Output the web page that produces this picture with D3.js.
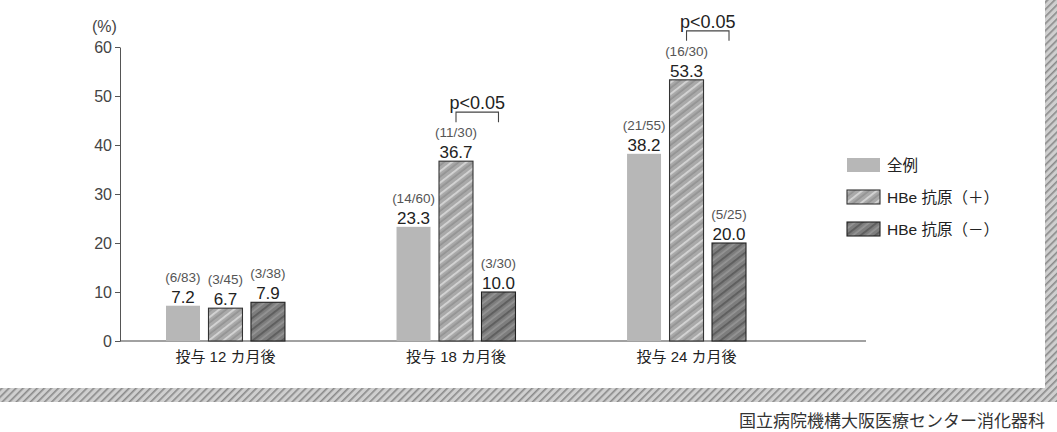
<!DOCTYPE html>
<html><head><meta charset="utf-8">
<script src="https://cdn.jsdelivr.net/npm/d3@7"></script>
<style>
html,body{margin:0;padding:0;background:#fff;}
svg{display:block;}
text{font-family:"Liberation Sans","Noto Sans CJK JP",sans-serif;}
</style></head>
<body>
<svg id="c" width="1057" height="432"></svg>
<script>
const categories = ["投与 12 カ月後", "投与 18 カ月後", "投与 24 カ月後"];
const seriesNames = ["全例", "HBe 抗原（＋）", "HBe 抗原（－）"];
const allCases = [7.2, 23.3, 38.2];
const hbePos = [6.7, 36.7, 53.3];
const hbeNeg = [7.9, 10.0, 20.0];
const countsAll = ["(6/83)", "(14/60)", "(21/55)"];
const countsPos = ["(3/45)", "(11/30)", "(16/30)"];
const countsNeg = ["(3/38)", "(3/30)", "(5/25)"];
const yTicks = [0, 10, 20, 30, 40, 50, 60];
const sigGroups = [1, 2]; // p<0.05 between HBe(+) and HBe(−)
const sigLabel = "p<0.05";
const unitLabel = "(%)";
const sourceLabel = "国立病院機構大阪医療センター消化器科";

const series = [allCases, hbePos, hbeNeg];
const counts = [countsAll, countsPos, countsNeg];

const svg = d3.select("#c");
const defs = svg.append("defs");

function stripePattern(id, base, stripe1, stripe2) {
  const p = defs.append("pattern").attr("id", id).attr("patternUnits", "userSpaceOnUse")
    .attr("width", 9).attr("height", 9).attr("patternTransform", "rotate(-38)");
  p.append("rect").attr("width", 9).attr("height", 9).attr("fill", base);
  p.append("rect").attr("x", 0).attr("y", 0).attr("width", 9).attr("height", 1.8).attr("fill", stripe1);
  p.append("rect").attr("x", 0).attr("y", 4.5).attr("width", 9).attr("height", 1.3).attr("fill", stripe2);
}
stripePattern("pPos", "#a9a9a9", "#d6d6d6", "#8c8c8c");
stripePattern("pNeg", "#7d7d7d", "#5c5c5c", "#9c9c9c");
const ps = defs.append("pattern").attr("id", "pShadow").attr("patternUnits", "userSpaceOnUse")
  .attr("width", 5).attr("height", 5).attr("patternTransform", "rotate(-45)");
ps.append("rect").attr("width", 5).attr("height", 5).attr("fill", "#cfcfcf");
ps.append("rect").attr("width", 5).attr("height", 1.6).attr("fill", "#8a8a8a");

const fills = ["#b7b7b7", "url(#pPos)", "url(#pNeg)"];
const strokes = ["none", "#333", "#222"];

// frame shadow
svg.append("rect").attr("x", 0).attr("y", 388).attr("width", 1057).attr("height", 14).attr("fill", "url(#pShadow)");
svg.append("rect").attr("x", 1045).attr("y", 0).attr("width", 12).attr("height", 402).attr("fill", "url(#pShadow)");

// scales
const y = d3.scaleLinear().domain([0, 60]).range([341, 47]);
const x0 = d3.scaleBand().domain(categories).range([166, 746]).paddingInner(0.484).paddingOuter(0);
const x1 = d3.scaleBand().domain([0, 1, 2]).range([0, x0.bandwidth()]).paddingInner(0.2).paddingOuter(0);

// y axis
const yAxis = d3.axisLeft(y).tickValues(yTicks).tickSize(5).tickPadding(3).tickSizeOuter(0);
const gy = svg.append("g").attr("transform", "translate(120,0)").call(yAxis);
gy.select(".domain").attr("stroke", "#555");
gy.selectAll(".tick line").attr("stroke", "#555");
gy.selectAll(".tick text").attr("font-size", 16).attr("fill", "#444")
  .attr("font-family", "Liberation Sans, sans-serif");

svg.append("text").attr("x", 92).attr("y", 32).attr("font-size", 16).attr("fill", "#444").text(unitLabel);

// baseline
svg.append("line").attr("x1", 120).attr("x2", 866).attr("y1", y(0)).attr("y2", y(0))
  .attr("stroke", "#444").attr("stroke-width", 1.2);

// bars
categories.forEach((cat, gi) => {
  series.forEach((vals, si) => {
    const bx = x0(cat) + x1(si);
    const v = vals[gi];
    svg.append("rect").attr("x", bx).attr("y", y(v)).attr("width", x1.bandwidth())
      .attr("height", y(0) - y(v)).attr("fill", fills[si])
      .attr("stroke", strokes[si]).attr("stroke-width", si ? 1.1 : 0);
    const cx = bx + x1.bandwidth() / 2;
    svg.append("text").attr("x", cx).attr("y", y(v) - 3).attr("text-anchor", "middle")
      .attr("font-size", 17).attr("fill", "#222").text(v.toFixed(1));
    svg.append("text").attr("x", cx).attr("y", y(v) - 24).attr("text-anchor", "middle")
      .attr("font-size", 13.5).attr("fill", "#555").text(counts[si][gi]);
  });
  svg.append("text").attr("x", x0(cat) + x0.bandwidth() / 2).attr("y", 362)
    .attr("text-anchor", "middle").attr("font-size", 15).attr("fill", "#222").text(cat);
});

// significance brackets
sigGroups.forEach(gi => {
  const cat = categories[gi];
  const xa = x0(cat) + x1(1) + x1.bandwidth() / 2;
  const xb = x0(cat) + x1(2) + x1.bandwidth() / 2;
  const top = y(hbePos[gi]) - 49;
  svg.append("path").attr("d", `M${xa},${top + 10}V${top}H${xb}V${top + 10}`)
    .attr("fill", "none").attr("stroke", "#444").attr("stroke-width", 1.1);
  svg.append("text").attr("x", (xa + xb) / 2).attr("y", top - 3).attr("text-anchor", "middle")
    .attr("font-size", 18).attr("fill", "#222").text(sigLabel);
});

// legend
const lg = svg.append("g").attr("transform", "translate(847,158)");
seriesNames.forEach((name, i) => {
  const g = lg.append("g").attr("transform", `translate(0,${i * 32})`);
  g.append("rect").attr("width", 33).attr("height", 14).attr("fill", fills[i])
    .attr("stroke", strokes[i]).attr("stroke-width", i ? 1.1 : 0);
  g.append("text").attr("x", 40).attr("y", 13).attr("font-size", 15.5).attr("fill", "#222").text(name);
});

// source
svg.append("text").attr("x", 1045).attr("y", 427).attr("text-anchor", "end")
  .attr("font-size", 17).attr("fill", "#333").attr("font-family", "Noto Sans CJK JP, sans-serif")
  .text(sourceLabel);
</script>
</body></html>
